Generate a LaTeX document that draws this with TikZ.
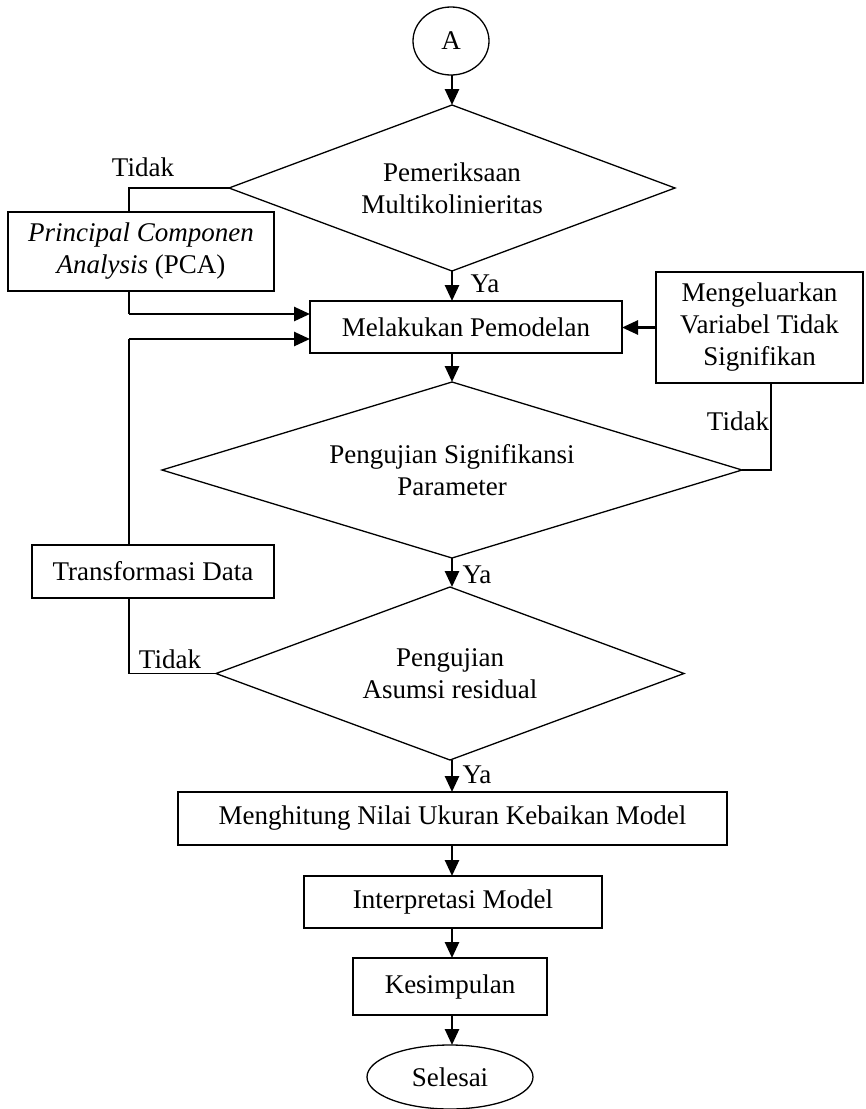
\documentclass[tikz,border=0pt]{standalone}
\usepackage{fontspec}
\setmainfont{Liberation Serif}
\usetikzlibrary{shapes.geometric,arrows.meta}
\begin{document}
\begin{tikzpicture}[x=1pt,y=-1pt,
  every node/.style={font=\fontsize{27}{32}\selectfont, inner sep=0pt, outer sep=0pt},
  box/.style={draw, line width=1.3pt, align=center},
  dia/.style={draw, diamond, line width=1.3pt, align=center},
  ell/.style={draw, ellipse, line width=1.3pt},
  conn/.style={line width=1.3pt},
  arr/.style={line width=2.6pt, -{Triangle[length=16pt,width=14pt]}},
  lbl/.style={}
]
\useasboundingbox (0,0) rectangle (866,1109);
% nodes
\node[ell, minimum width=76, minimum height=68] (A) at (451,41) {A};
\node[dia, shape aspect=2.687, minimum width=446, minimum height=166] (D1) at (452,188) {Pemeriksaan\\Multikolinieritas};
\node[box, minimum width=266, minimum height=79] (PCA) at (141,251.5) {\textit{Principal Componen}\\\textit{Analysis} (PCA)};
\node[box, minimum width=312, minimum height=52] (MP) at (466,327) {Melakukan Pemodelan};
\node[box, minimum width=207, minimum height=111] (MV) at (759.5,327.5) {Mengeluarkan\\Variabel Tidak\\Signifikan};
\node[dia, shape aspect=3.295, minimum width=580, minimum height=176] (D2) at (452,470) {Pengujian Signifikansi\\Parameter};
\node[box, minimum width=242, minimum height=53] (TD) at (153,571.5) {Transformasi Data};
\node[dia, shape aspect=2.705, minimum width=468, minimum height=173] (D3) at (450,673.5) {Pengujian\\Asumsi residual};
\node[box, minimum width=549, minimum height=53] (MN) at (452.5,818.5) {Menghitung Nilai Ukuran Kebaikan Model};
\node[box, minimum width=298, minimum height=52] (IM) at (453,902) {Interpretasi Model};
\node[box, minimum width=194, minimum height=57] (KS) at (450,986.5) {Kesimpulan};
\node[ell, minimum width=166, minimum height=64] (SL) at (450,1077) {Selesai};
% labels
\node[lbl] (t1) at (143,167) {Tidak};
\node[lbl] (t2) at (738,421) {Tidak};
\node[lbl] (t3) at (170,659) {Tidak};
\node[lbl] (y1) at (485,284) {Ya};
\node[lbl] (y2) at (477,575) {Ya};
\node[lbl] (y3) at (477,775) {Ya};
% helper coordinates
\coordinate (lx) at (129,0);
\coordinate (rx) at (771,0);
\coordinate (j1) at (129,314);
\coordinate (j2) at (129,339);
% connectors
\draw[arr] (A.south -| D1.north) -- (D1.north);
\draw[arr] (D1.south) -- (D1.south |- MP.north);
\draw[arr] (D2.north |- MP.south) -- (D2.north);
\draw[arr] (D2.south) -- (D2.south |- D3.north);
\draw[arr] (D3.south -| D2.south) -- (D2.south |- MN.north);
\draw[arr] (MN.south -| D2.south) -- (D2.south |- IM.north);
\draw[arr] (IM.south -| D2.south) -- (D2.south |- KS.north);
\draw[arr] (KS.south -| D2.south) -- (D2.south |- SL.north);
\draw[arr] (MV.west) -- (MP.east |- MV.west);
% Tidak branches
\draw[conn] (D1.west) -| (PCA.north -| lx);
\draw[conn] (PCA.south -| lx) -- (j1);
\draw[arr] (j1) -- (MP.west |- j1);
\draw[conn] (D3.west) -| (TD.south -| lx);
\draw[conn] (TD.north -| lx) -- (j2);
\draw[arr] (j2) -- (MP.west |- j2);
\draw[conn] (D2.east) -| (MV.south -| rx);
\end{tikzpicture}
\end{document}
